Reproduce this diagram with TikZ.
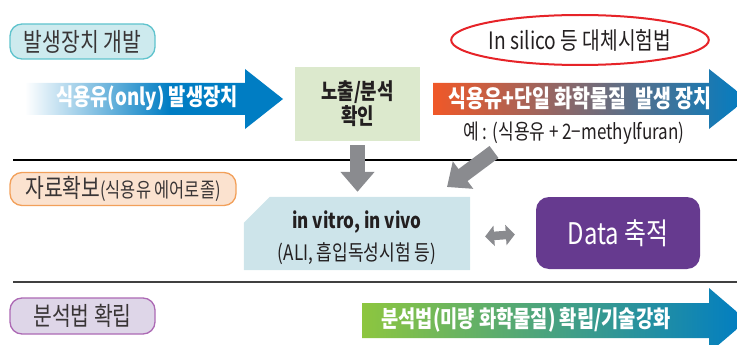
\documentclass[tikz,border=0pt]{standalone}
\usepackage{fontspec}
\setmainfont{Noto Sans CJK KR}[FakeStretch=0.8]
\usetikzlibrary{arrows.meta,shapes.geometric,calc,backgrounds}
\definecolor{arblue}{RGB}{0,125,195}
\definecolor{arorange}{RGB}{240,88,40}
\definecolor{armid}{RGB}{150,92,130}
\definecolor{argreen}{RGB}{141,198,63}
\definecolor{agray}{RGB}{138,139,143}
\definecolor{gbox}{RGB}{220,233,205}
\definecolor{bbox}{RGB}{205,228,234}
\definecolor{pbox}{RGB}{102,58,143}
\definecolor{lafill}{RGB}{205,234,238}
\definecolor{ladraw}{RGB}{95,195,205}
\definecolor{lbfill}{RGB}{251,226,207}
\definecolor{lbdraw}{RGB}{242,160,90}
\definecolor{lcfill}{RGB}{222,214,232}
\definecolor{lcdraw}{RGB}{172,105,180}
\definecolor{ered}{RGB}{230,35,40}
\definecolor{txt}{RGB}{35,31,32}
\pgfdeclarehorizontalshading{oilgrad}{100bp}{color(0bp)=(white); color(25bp)=(white); color(53bp)=(arblue); color(100bp)=(arblue)}
\newcommand\fsz[2]{\fontsize{#1}{#2}\selectfont}
\begin{document}
\begin{tikzpicture}[x=1pt,y=-1pt,
  lab/.style={draw,line width=1.3pt,rounded corners=12pt,minimum height=35pt,inner sep=0pt,font=\fsz{25.5}{30},text=txt!90},
  artext/.style={font=\bfseries\fsz{23.4}{27},text=white,inner sep=0pt},
  garrow/.style={line width=15pt,agray,-{Triangle[width=33pt,length=20pt]}},
  sepline/.style={line width=1.2pt}]
\useasboundingbox (0,0) rectangle (737,345);
\clip (0,0) rectangle (737,345);

% section labels
\node[lab,fill=lafill,draw=ladraw,minimum width=145pt] (laba) at (82.5,41.5) {발생장치 개발};
\node[lab,fill=lbfill,draw=lbdraw,minimum width=226pt,minimum height=33pt] (labb) at (123,189) {자료확보{\fsz{20.5}{24}(식용유 에어로졸)}};
\node[lab,fill=lcfill,draw=lcdraw,minimum width=145pt,minimum height=36pt] (labc) at (82.5,316) {분석법 확립};

% separator lines
\draw[sepline] (13,160) -- (737,160);
\draw[sepline,black!75] (13,282) -- (737,282);

% block arrows
\shade[shading=oilgrad] (25,83) -- (245,83) -- (245,69) -- (283,99) -- (245,129) -- (245,115) -- (25,115) -- cycle;
\node[artext] (arra) at (147,98) {식용유(only) 발생장치};

\shade[left color=arorange,middle color=armid,right color=arblue] (433,83) -- (709,83) -- (709,69) -- (747,99) -- (709,129) -- (709,115) -- (433,115) -- cycle;
\node[artext,font=\bfseries\fsz{24.4}{28}] (arrb) at (580,98) {식용유+단일 화학물질\ \ 발생 장치};

\shade[left color=argreen,right color=arblue] (362,303) -- (709,303) -- (709,288) -- (747,320.5) -- (709,353) -- (709,338) -- (362,338) -- cycle;
\node[artext,font=\bfseries\fsz{23.4}{27}] (arrc) at (526,320) {분석법(미량 화학물질) 확립/기술강화};

% in silico
\node[ellipse,draw=ered,line width=2pt,minimum width=256pt,minimum height=50pt,inner sep=0pt,font=\fsz{24}{28},text=txt] (silico) at (580,40) {In silico 등 대체시험법};

\node[font=\fsz{21.3}{25},text=txt,inner sep=0pt] (ex) at (574,133) {예 : (식용유 + 2−methylfuran)};

% boxes
\node[fill=gbox,minimum width=125pt,minimum height=74pt,inner sep=0pt,align=center,font=\bfseries\fsz{22.3}{25},text=txt] (expo) at (357.5,104) {노출/분석\\확인};

\node[minimum width=226pt,minimum height=73pt,inner sep=0pt,align=center,text=txt] (vitro) at (357,237.5)
  {{\bfseries\fsz{21.3}{25}in vitro, in vivo}\\[8pt]{\fsz{21.3}{25}(ALI, 흡입독성시험 등)}};
\begin{scope}[on background layer]
\fill[bbox] ($(vitro.south west)+(0,-4)$) -- ($(vitro.north west)+(0,22)$) -- ($(vitro.north west)+(26,-4)$) -- ($(vitro.north east)+(0,-4)$) -- ($(vitro.south east)+(0,-4)$) -- cycle;
\end{scope}

\node[fill=pbox,rounded corners=13pt,minimum width=164pt,minimum height=72pt,inner sep=0pt,text=white,font=\fsz{29.8}{34}] (data) at (618,233) {Data 축적};

% grey arrows
\draw[garrow,shorten <=4pt,shorten >=9pt] (expo.south) -- (expo.south |- vitro.north);
\coordinate (dtail) at (494,152);
\coordinate (dtip) at (447,187);
\draw[garrow] (dtail) -- (dtip);
\draw[line width=8.5pt,agray,{Triangle[width=20pt,length=9pt]}-{Triangle[width=20pt,length=9pt]},shorten <=15pt,shorten >=21pt] (vitro.east) -- (data.west);
\end{tikzpicture}
\end{document}
